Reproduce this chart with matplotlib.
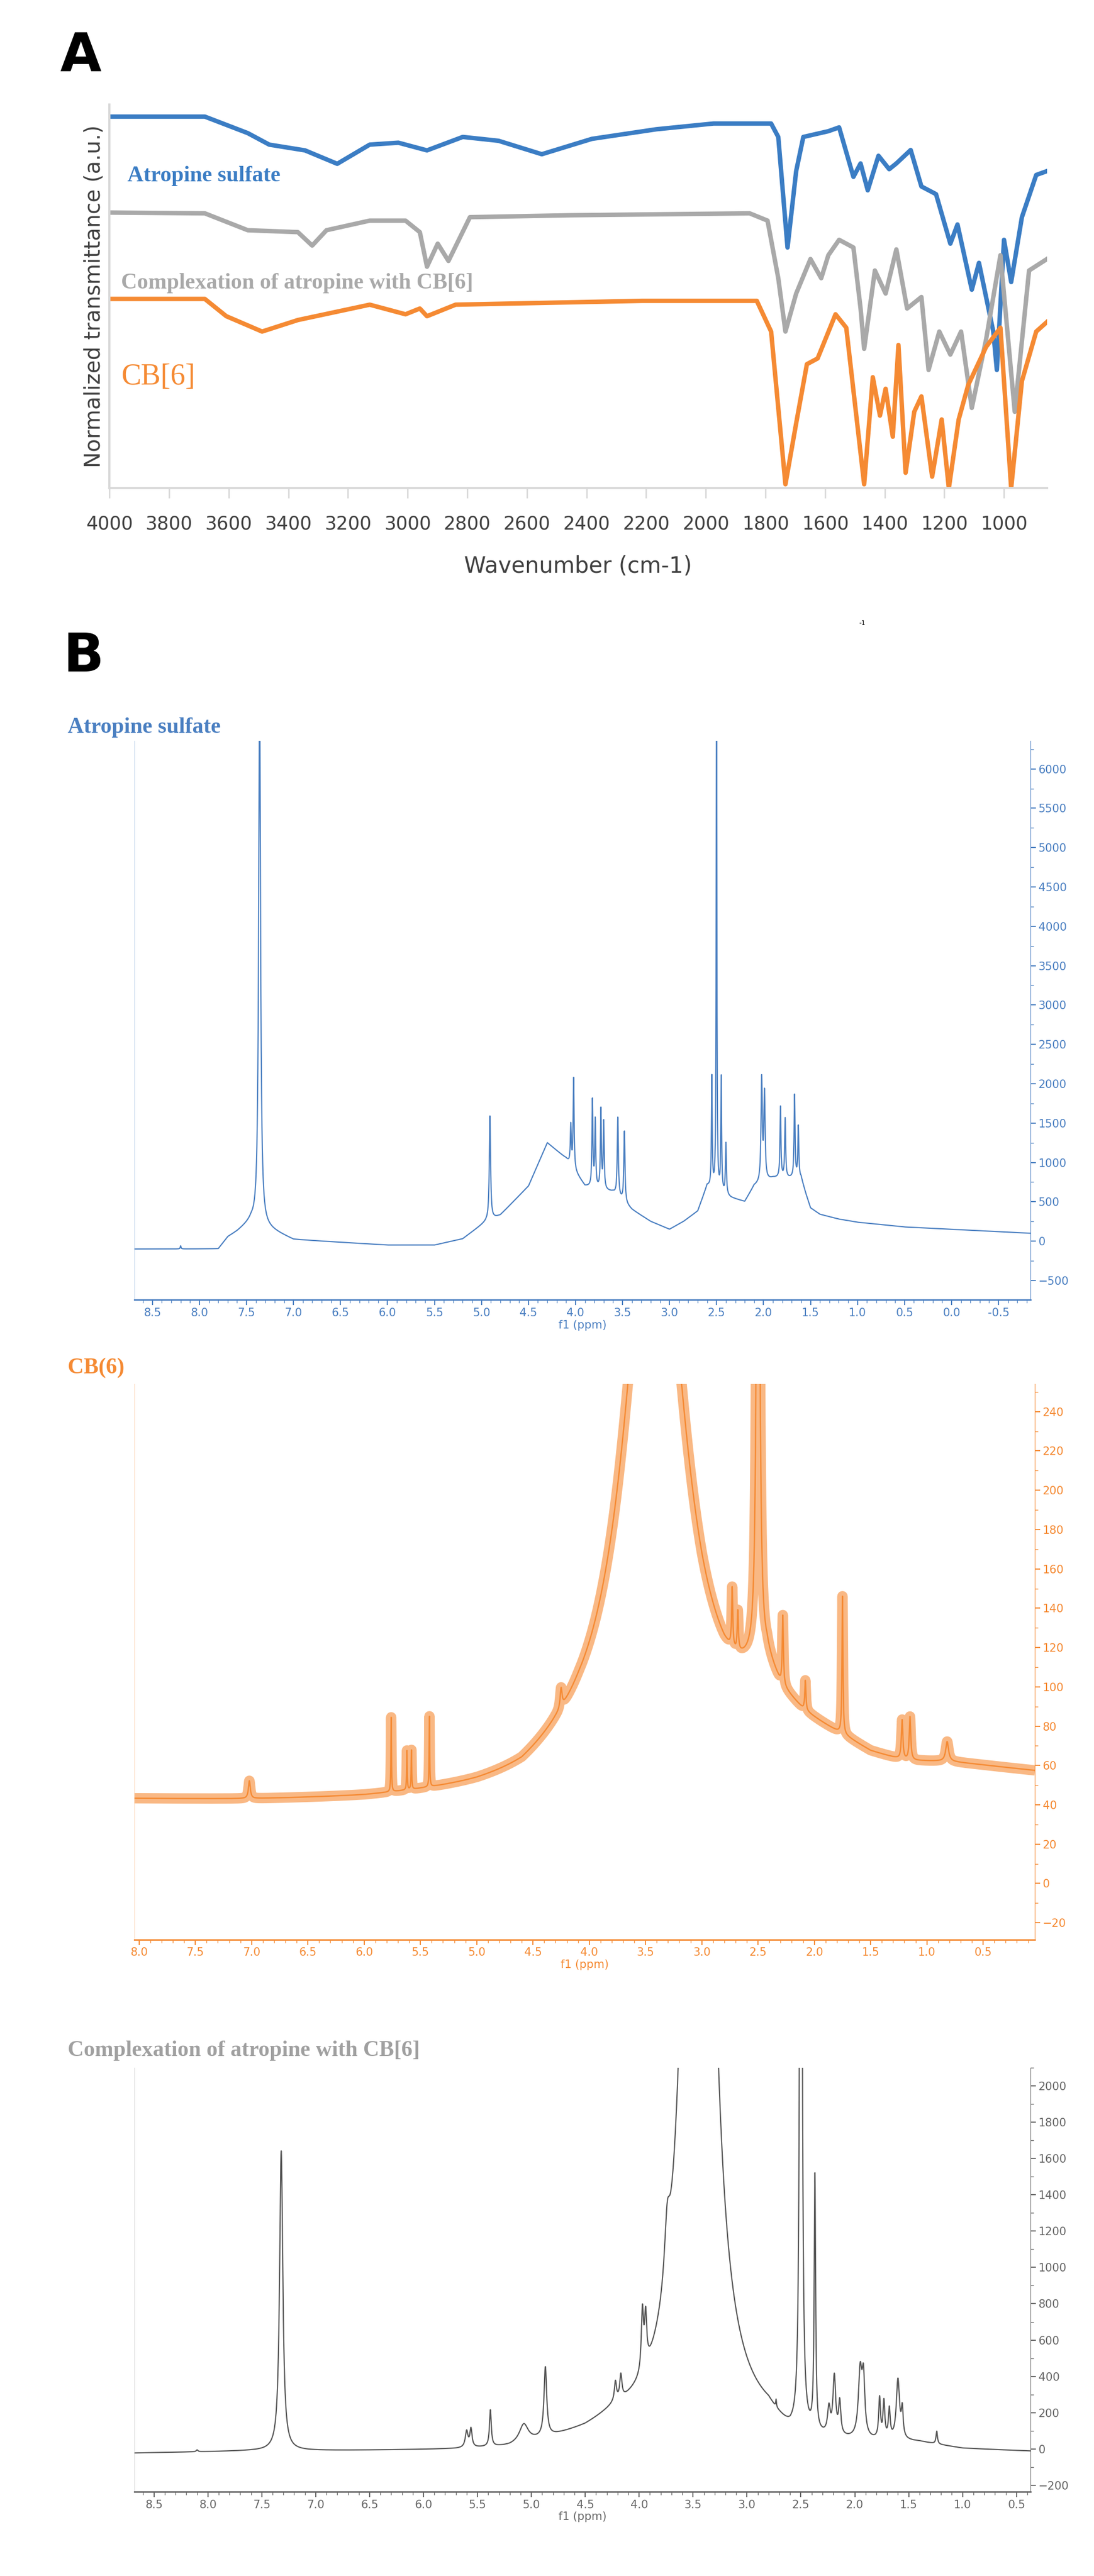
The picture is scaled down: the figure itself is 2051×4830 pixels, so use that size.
import numpy as np
import matplotlib
matplotlib.use("Agg")
import matplotlib.pyplot as plt
import matplotlib.ticker as mticker

# ---------------- IR data (wavenumber, normalized transmittance) ----------------
ir_atropine_wn = [4000, 3680, 3536, 3464, 3344, 3236, 3127, 3031, 2935, 2815, 2695, 2550, 2382, 2166,
                  1974, 1781, 1757, 1726, 1697, 1673, 1589, 1553, 1505, 1481, 1457, 1421, 1385, 1361,
                  1313, 1277, 1228, 1180, 1156, 1108, 1084, 1036, 1024, 1000, 976, 940, 892, 856]
ir_atropine_t = [0.968, 0.968, 0.925, 0.895, 0.880, 0.845, 0.895, 0.900, 0.880, 0.915, 0.905, 0.870,
                 0.910, 0.935, 0.950, 0.950, 0.915, 0.627, 0.826, 0.915, 0.930, 0.940, 0.811, 0.846,
                 0.776, 0.866, 0.831, 0.846, 0.881, 0.786, 0.766, 0.637, 0.687, 0.517, 0.587, 0.408,
                 0.308, 0.647, 0.537, 0.706, 0.816, 0.826]

ir_complex_wn = [4000, 3680, 3536, 3368, 3320, 3272, 3127, 3007, 2959, 2935, 2899, 2863, 2791, 2454,
                 1853, 1793, 1757, 1733, 1697, 1649, 1613, 1589, 1553, 1505, 1481, 1469, 1433, 1397,
                 1361, 1325, 1277, 1253, 1217, 1180, 1144, 1108, 1060, 1012, 964, 916, 856]
ir_complex_t = [0.718, 0.716, 0.672, 0.667, 0.632, 0.672, 0.697, 0.697, 0.667, 0.577, 0.637, 0.592,
                0.706, 0.711, 0.716, 0.697, 0.547, 0.408, 0.507, 0.597, 0.547, 0.607, 0.647, 0.627,
                0.468, 0.363, 0.567, 0.507, 0.622, 0.468, 0.498, 0.308, 0.408, 0.348, 0.408, 0.209,
                0.388, 0.607, 0.199, 0.567, 0.597]

ir_cb6_wn = [4000, 3680, 3608, 3488, 3368, 3127, 3007, 2959, 2935, 2839, 2214, 1829, 1781, 1733,
             1697, 1661, 1625, 1565, 1529, 1469, 1440, 1416, 1397, 1373, 1354, 1330, 1301, 1277,
             1241, 1209, 1185, 1152, 1120, 1060, 1012, 976, 940, 892, 856]
ir_cb6_t = [0.493, 0.493, 0.448, 0.408, 0.438, 0.478, 0.453, 0.468, 0.448, 0.478, 0.488, 0.488,
            0.408, 0.010, 0.169, 0.323, 0.338, 0.453, 0.418, 0.010, 0.289, 0.189, 0.259, 0.134,
            0.373, 0.040, 0.199, 0.239, 0.030, 0.179, 0.000, 0.179, 0.269, 0.368, 0.418, 0.000,
            0.279, 0.408, 0.433]

ir_ticks = list(range(4000, 999, -200))

# ---------------- NMR data: baseline anchors (ppm, intensity) and peaks (ppm, height, half width) ----------------
atr_base_x = [8.7, 7.8, 7.7, 7.6, 7.45, 7.25, 7.0, 6.0, 5.5, 5.2, 4.95, 4.8, 4.5, 4.3, 4.1, 3.9, 3.6, 3.4,
              3.2, 3.0, 2.85, 2.7, 2.6, 2.35, 2.2, 2.1, 1.9, 1.6, 1.55, 1.5, 1.4, 1.2, 1.0, 0.5, -0.84]
atr_base_y = [-100, -100, 50, 120, 250, 150, 20, -50, -50, 30, 250, 330, 700, 1250, 1050, 700, 620, 400,
              250, 150, 250, 380, 700, 550, 500, 700, 800, 800, 600, 420, 340, 280, 240, 180, 100]
atr_peaks = [(7.36, 6800, 0.012), (4.91, 1320, 0.008), (4.05, 500, 0.006), (4.02, 1150, 0.006),
             (3.82, 1100, 0.006), (3.79, 850, 0.006), (3.73, 1000, 0.006), (3.70, 850, 0.006),
             (3.55, 1000, 0.007), (3.48, 900, 0.007), (2.55, 1400, 0.005), (2.50, 7000, 0.004),
             (2.45, 1450, 0.005), (2.40, 650, 0.006), (2.02, 1300, 0.008), (1.99, 1100, 0.008),
             (1.82, 900, 0.006), (1.77, 750, 0.006), (1.67, 1050, 0.006), (1.63, 650, 0.006),
             (8.2, 40, 0.005)]

cb6_base_x = [8.04, 7.0, 6.0, 5.0, 4.6, 4.3, 4.1, 3.0, 2.8, 2.7, 2.42, 2.3, 2.1, 1.9, 1.7, 1.5, 1.2,
              0.8, 0.5, 0.04]
cb6_base_y = [42, 41, 41, 43, 45, 52, 55, 60, 65, 70, 90, 80, 73, 69, 65, 60, 57, 58, 57, 55]
cb6_peaks = [(3.42, 320, 0.30), (2.50, 500, 0.012), (2.73, 30, 0.006), (2.68, 20, 0.006),
             (2.28, 35, 0.006), (2.08, 15, 0.006), (1.75, 70, 0.005), (1.22, 20, 0.008),
             (1.15, 22, 0.008), (0.82, 10, 0.015), (7.02, 9, 0.01), (5.76, 38, 0.003),
             (5.62, 20, 0.003), (5.58, 20, 0.003), (5.42, 36, 0.003), (4.25, 10, 0.01)]

cpx_base_x = [8.68, 7.6, 7.2, 5.7, 5.2, 4.8, 4.5, 4.25, 3.0, 2.8, 2.6, 1.5, 1.4, 1.0, 0.37]
cpx_base_y = [-25, -15, -15, -15, -10, 30, 60, 110, 80, 80, 0, 20, 20, -10, -20]
cpx_peaks = [(7.32, 1650, 0.018), (8.1, 10, 0.01), (5.60, 90, 0.015), (5.56, 100, 0.012),
             (5.38, 200, 0.010), (5.07, 100, 0.05), (4.87, 380, 0.015), (4.22, 110, 0.012),
             (4.17, 130, 0.012), (3.97, 330, 0.012), (3.94, 270, 0.012), (3.74, 300, 0.03),
             (3.45, 9000, 0.10), (2.73, 40, 0.004), (2.50, 9000, 0.008), (2.37, 1400, 0.008),
             (2.24, 140, 0.015), (2.19, 320, 0.015), (2.14, 180, 0.012), (1.95, 360, 0.02),
             (1.92, 300, 0.015), (1.77, 220, 0.010), (1.73, 200, 0.010), (1.68, 160, 0.010),
             (1.60, 330, 0.018), (1.56, 150, 0.010), (1.24, 70, 0.008)]


def nmr_curve(x, base_x, base_y, peaks):
    y = np.interp(x, base_x[::-1], base_y[::-1])
    for c, h, w in peaks:
        y = y + h / (1 + ((x - c) / w) ** 2)
    return y


fig = plt.figure(figsize=(20.51, 48.30), dpi=100)
fig.patch.set_facecolor("white")
serif = ["Liberation Serif", "DejaVu Serif"]

# ---------------- Panel A: IR ----------------
ax = fig.add_axes([0.100, 0.8105, 0.857, 0.149])
ax.plot(ir_atropine_wn, ir_atropine_t, color="#3b7dc4", lw=6, solid_joinstyle="round")
ax.plot(ir_complex_wn, ir_complex_t, color="#a9a9a9", lw=6, solid_joinstyle="round")
ax.plot(ir_cb6_wn, ir_cb6_t, color="#f58a33", lw=6, solid_joinstyle="round")
ax.set_xlim(4000, 856)
ax.set_ylim(0, 1.0)
ax.set_xticks(ir_ticks)
ax.set_xticklabels([str(t) for t in ir_ticks], fontsize=25, color="#404040")
ax.set_yticks([])
ax.tick_params(axis="x", length=14, width=2, color="#d9d9d9", pad=22)
for s in ["top", "right"]:
    ax.spines[s].set_visible(False)
for s in ["bottom", "left"]:
    ax.spines[s].set_color("#d9d9d9")
    ax.spines[s].set_linewidth(3)
ax.set_xlabel("Wavenumber (cm-1)", fontsize=30, color="#404040", labelpad=30)
ax.set_ylabel("Normalized transmittance (a.u.)", fontsize=29, color="#404040", labelpad=6)
ax.text(3940, 0.80, "Atropine sulfate", color="#3b7dc4", fontsize=30, fontweight="bold", family=serif)
ax.text(3960, 0.52, "Complexation of atropine with CB[6]", color="#a9a9a9", fontsize=30,
        fontweight="bold", family=serif)
ax.text(3960, 0.27, "CB[6]", color="#f58a33", fontsize=40, family=serif)

fig.text(0.055, 0.978, "A", fontsize=72, fontweight="bold", ha="left", va="center")
fig.text(0.058, 0.745, "B", fontsize=72, fontweight="bold", ha="left", va="center")
fig.text(0.785, 0.758, "-1", fontsize=9, ha="left", va="center")


def nmr_axes(rect, xlim, ylim, yticks, xticks, color, tickcolor):
    a = fig.add_axes(rect)
    a.set_xlim(*xlim)
    a.set_ylim(*ylim)
    a.yaxis.tick_right()
    a.set_yticks(yticks)
    a.set_xticks(xticks)
    a.xaxis.set_minor_locator(mticker.MultipleLocator(0.1))
    a.yaxis.set_minor_locator(mticker.AutoMinorLocator(2))
    a.tick_params(axis="both", which="major", labelsize=15, colors=tickcolor, length=7, width=1.5,
                  direction="out")
    a.tick_params(axis="both", which="minor", colors=tickcolor, length=4, width=1)
    a.xaxis.set_major_formatter(mticker.FormatStrFormatter("%.1f"))
    a.spines["top"].set_visible(False)
    a.spines["left"].set_color(color)
    a.spines["left"].set_linewidth(0.8)
    a.spines["left"].set_alpha(0.35)
    a.spines["right"].set_color(tickcolor)
    a.spines["bottom"].set_color(tickcolor)
    a.spines["bottom"].set_linewidth(2)
    a.set_xlabel("f1 (ppm)", fontsize=15, color=tickcolor, labelpad=2)
    return a


# ---------------- Panel B: atropine sulfate ----------------
x = np.linspace(8.69, -0.84, 12000)
a1 = nmr_axes([0.123, 0.4954, 0.819, 0.217], (8.69, -0.84), (-746, 6356),
              list(range(-500, 6001, 500)), [8.5 - 0.5 * i for i in range(19)], "#4a7fc1", "#4a7fc1")
a1.plot(x, nmr_curve(x, atr_base_x, atr_base_y, atr_peaks), color="#4a7fc1", lw=1.6)
fig.text(0.062, 0.7176, "Atropine sulfate", color="#4a7fc1", fontsize=30, fontweight="bold",
         family=serif, va="center")

# ---------------- CB(6) ----------------
x = np.linspace(8.04, 0.04, 12000)
a2 = nmr_axes([0.123, 0.2471, 0.823, 0.2156], (8.04, 0.04), (-28.5, 254),
              list(range(-20, 241, 20)), [8.0 - 0.5 * i for i in range(16)], "#f58a33", "#f58a33")
ycb = nmr_curve(x, cb6_base_x, cb6_base_y, cb6_peaks)
a2.plot(x, ycb, color="#f58a33", lw=14, alpha=0.6, solid_capstyle="butt")
a2.plot(x, ycb, color="#f58a33", lw=1.8)
fig.text(0.062, 0.469, "CB(6)", color="#f58a33", fontsize=30, fontweight="bold", family=serif,
         va="center")

# ---------------- Complexation ----------------
x = np.linspace(8.68, 0.37, 12000)
a3 = nmr_axes([0.123, 0.0327, 0.819, 0.1647], (8.68, 0.37), (-235, 2100),
              list(range(-200, 2001, 200)), [8.5 - 0.5 * i for i in range(17)], "#888888", "#666666")
a3.plot(x, nmr_curve(x, cpx_base_x, cpx_base_y, cpx_peaks), color="#555555", lw=1.6)
fig.text(0.062, 0.204, "Complexation of atropine with CB[6]", color="#a0a0a0", fontsize=30,
         fontweight="bold", family=serif, va="center")

fig.savefig("out.png", dpi=100)
